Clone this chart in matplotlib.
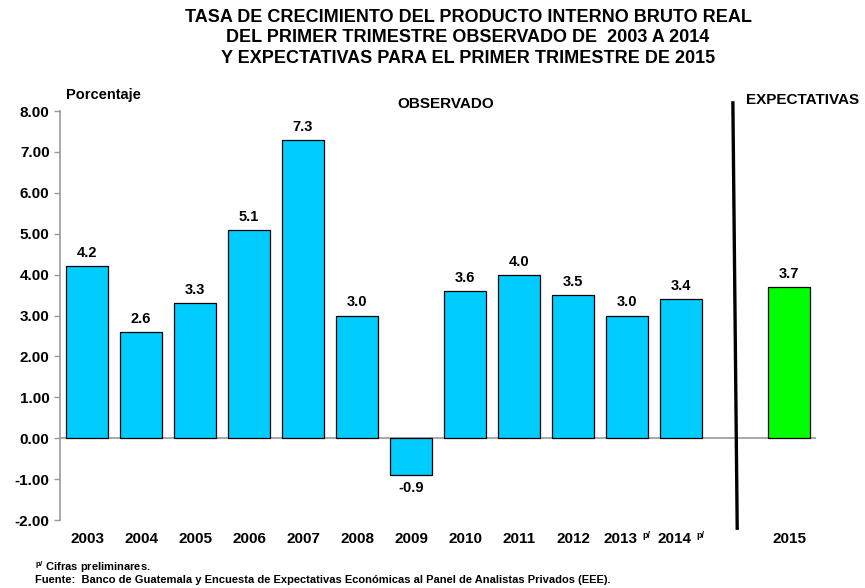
import numpy as np
import matplotlib.pyplot as plt
import matplotlib.transforms as mtransforms

plt.rcParams['font.family'] = ['Liberation Sans', 'DejaVu Sans']

# observed values, first quarter
obs_years = ["2003", "2004", "2005", "2006", "2007", "2008", "2009",
             "2010", "2011", "2012", "2013", "2014"]
obs_values = [4.2, 2.6, 3.3, 5.1, 7.3, 3.0, -0.9, 3.6, 4.0, 3.5, 3.0, 3.4]
obs_labels = ["4.2", "2.6", "3.3", "5.1", "7.3", "3.0", "-0.9", "3.6", "4.0", "3.5", "3.0", "3.4"]
preliminary = ["2013", "2014"]

# expectation
exp_years = ["2015"]
exp_values = [3.7]
exp_labels = ["3.7"]

y_ticks = [-2, -1, 0, 1, 2, 3, 4, 5, 6, 7, 8]

fig = plt.figure(figsize=(8.65, 5.88), dpi=100)
ax = fig.add_axes([0.0694, 0.1156, 0.874, 0.6955])

x_obs = np.arange(len(obs_values))
x_exp = np.arange(len(exp_values)) + len(obs_values) + 1

bars = ax.bar(x_obs, obs_values, width=0.78, color="#00CCFF", edgecolor="black", linewidth=0.9, zorder=3)
bars2 = ax.bar(x_exp, exp_values, width=0.78, color="#00FF00", edgecolor="black", linewidth=0.9, zorder=3)

for b, lab, v in zip(bars, obs_labels, obs_values):
    if v >= 0:
        ax.text(b.get_x() + b.get_width() / 2, v + 0.15, lab, ha="center", va="bottom",
                fontsize=10.5, fontweight="bold")
    else:
        ax.text(b.get_x() + b.get_width() / 2, v - 0.15, lab, ha="center", va="top",
                fontsize=10.5, fontweight="bold")
for b, lab, v in zip(bars2, exp_labels, exp_values):
    ax.text(b.get_x() + b.get_width() / 2, v + 0.15, lab, ha="center", va="bottom",
            fontsize=10.5, fontweight="bold")

ax.set_xlim(-0.5, len(obs_values) + 1.5)
ax.set_ylim(-2, 8)
ax.set_yticks(y_ticks)
ax.set_yticklabels([f"{t:.2f}" for t in y_ticks], fontsize=11, fontweight="bold")

# year labels drawn as text so the preliminary ones can carry a superscript
ax.set_xticks([])
trans = mtransforms.blended_transform_factory(ax.transData, ax.transAxes)
for xi, yr in zip(list(x_obs) + list(x_exp), obs_years + exp_years):
    if yr in preliminary:
        ax.text(xi - 0.13, -0.03, yr, transform=trans, ha="center", va="top",
                fontsize=11, fontweight="bold")
        ax.text(xi + 0.29, -0.027, "p/", transform=trans, ha="left", va="top",
                fontsize=6.5, fontweight="bold")
    else:
        ax.text(xi, -0.03, yr, transform=trans, ha="center", va="top",
                fontsize=11, fontweight="bold")

ax.tick_params(axis="y", length=4, color="#999999", width=1)

for s in ["top", "right", "bottom"]:
    ax.spines[s].set_visible(False)
ax.spines["left"].set_color("#999999")
ax.spines["left"].set_linewidth(1.2)

# zero line
ax.axhline(0, color="#999999", linewidth=1.2, zorder=2)

# divider between observed and expected
x_div = len(obs_values) + 0.0
ax.plot([x_div - 0.04, x_div + 0.04], [8.2, -2.2], color="black", linewidth=2.4, clip_on=False, zorder=4)

ax.text(-0.39, 8.4, "Porcentaje", fontsize=10.5, fontweight="bold", ha="left", va="center")
ax.text(6.65, 8.17, "OBSERVADO", fontsize=11, fontweight="bold", ha="center", va="center")
ax.text(13.25, 8.27, "EXPECTATIVAS", fontsize=11, fontweight="bold", ha="center", va="center")

fig.text(0.541, 0.985, "TASA DE CRECIMIENTO DEL PRODUCTO INTERNO BRUTO REAL\n"
         "DEL PRIMER TRIMESTRE OBSERVADO DE  2003 A 2014\n"
         "Y EXPECTATIVAS PARA EL PRIMER TRIMESTRE DE 2015",
         ha="center", va="top", fontsize=13, fontweight="bold", linespacing=1.27)

fig.text(0.041, 0.036, "$^{\\mathregular{p/}}$ Cifras preliminares.", fontsize=8, fontweight="bold", va="center")
fig.text(0.041, 0.013, "Fuente:  Banco de Guatemala y Encuesta de Expectativas Económicas al Panel de Analistas Privados (EEE).",
         fontsize=8, fontweight="bold", va="center")

fig.savefig("out.png", dpi=100)
